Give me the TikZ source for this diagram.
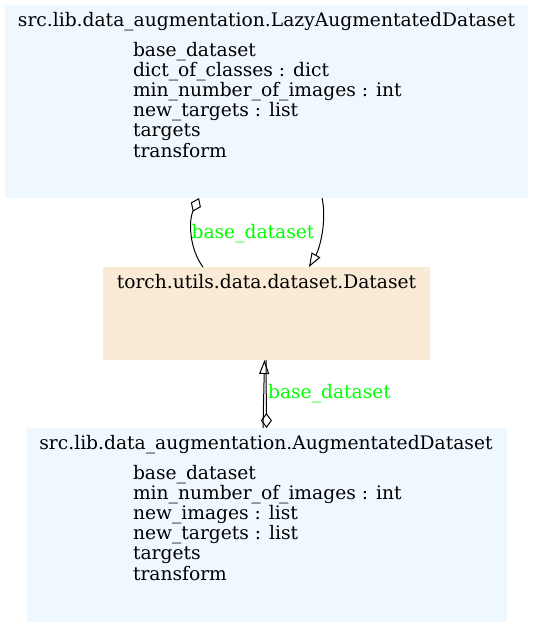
\documentclass[tikz,border=0pt]{standalone}
\usepackage{fontspec}
\setmainfont{DejaVu Serif}
\usetikzlibrary{arrows.meta}
\definecolor{boxblue}{HTML}{F0F8FF}
\definecolor{boxbeige}{HTML}{FAEBD7}
\definecolor{lblgreen}{HTML}{00FF00}
\begin{document}
\begin{tikzpicture}[x=1pt,y=-1pt,
  classbox/.style={draw=none, inner sep=0pt, outer sep=0pt, anchor=north west},
  txt/.style={inner sep=0pt, outer sep=0pt, font=\fontsize{18.67}{20.2}\selectfont},
  attr/.style={txt, anchor=north west, align=left},
  rel/.style={draw=black, line width=1pt},
  diam/.style={-{Diamond[open, length=15pt, width=11pt]}},
  tri/.style={-{Triangle[open, length=14pt, width=10pt]}},
  lbl/.style={txt, text=lblgreen, anchor=base}]
\useasboundingbox (0,0) rectangle (533,627);
% class boxes
\node[classbox, fill=boxblue, minimum width=523pt, minimum height=193pt] (lazy) at (5,5) {};
\node[classbox, fill=boxbeige, minimum width=327pt, minimum height=93pt] (ds) at (103,267) {};
\node[classbox, fill=boxblue, minimum width=480pt, minimum height=194pt] (aug) at (27,428) {};
% texts
\node[txt, anchor=base] (lazyT) at (266.5,26) {src.lib.data\_augmentation.LazyAugmentatedDataset};
\node[attr] (lazyA) at (133,42) {base\_dataset\\dict\_of\_classes : dict\\min\_number\_of\_images : int\\new\_targets : list\\targets\\transform};
\node[txt, anchor=base] (dsT) at (266.5,288) {torch.utils.data.dataset.Dataset};
\node[txt, anchor=base] (augT) at (266,449) {src.lib.data\_augmentation.AugmentatedDataset};
\node[attr] (augA) at (133,465) {base\_dataset\\min\_number\_of\_images : int\\new\_images : list\\new\_targets : list\\targets\\transform};
% connector end points
\coordinate (lzL) at ([xshift=194pt]lazy.south west);
\coordinate (lzR) at ([xshift=317pt]lazy.south west);
\coordinate (dsTL) at ([xshift=100pt]ds.north west);
\coordinate (dsTR) at ([xshift=206pt]ds.north west);
\coordinate (dsBL) at ([xshift=161.5pt]ds.south west);
\coordinate (dsBR) at ([xshift=163pt]ds.south west);
\coordinate (augTL) at ([xshift=236pt]aug.north west);
\coordinate (augTR) at ([xshift=239.5pt]aug.north west);
% connectors
\draw[rel, diam] (dsTL) .. controls (190,250) and (188,222) .. (lzL);
\draw[rel, tri] (lzR) .. controls (327,220) and (320,248) .. (dsTR);
\draw[rel, tri] (augTL) -- (dsBL);
\draw[rel, diam] (dsBR) -- (augTR);
% labels
\node[lbl] (l1) at (253,238) {base\_dataset};
\node[lbl] (l2) at (329.5,398) {base\_dataset};
\end{tikzpicture}
\end{document}
